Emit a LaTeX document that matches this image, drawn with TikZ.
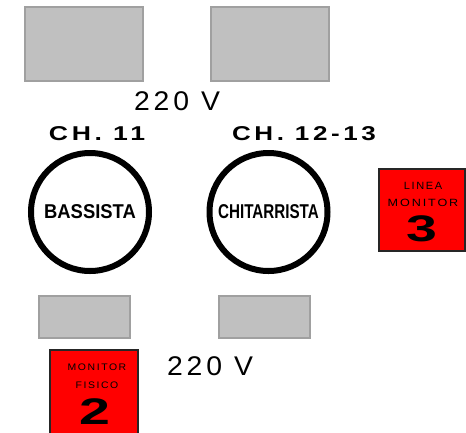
\documentclass[tikz,border=0pt]{standalone}
\usepackage{fontspec}
\usepackage{graphicx}
\setmainfont{Liberation Sans}
\newfontfamily\spacedfont[LetterSpace=14]{Liberation Sans}
\newfontfamily\tinyspaced[LetterSpace=15]{Liberation Sans}
\newcommand{\widen}[2]{\scalebox{#1}[1]{#2}}
\definecolor{platefill}{HTML}{C0C0C0}
\definecolor{plateedge}{HTML}{A0A0A0}
\definecolor{monred}{HTML}{FF0000}

\begin{document}
\begin{tikzpicture}[x=1pt,y=-1pt,
  plate/.style={draw=plateedge,fill=platefill,line width=2pt,inner sep=0pt},
  stand/.style={circle,draw=black,line width=6pt,inner sep=0pt,minimum size=118pt},
  monitor/.style={draw=black!85,fill=monred,line width=2pt,inner sep=0pt},
  volt/.style={inner sep=0pt,font=\spacedfont\fontsize{27}{29}\selectfont},
  chan/.style={inner sep=0pt,font=\spacedfont\bfseries\fontsize{20}{22}\selectfont},
  player/.style={inner sep=0pt,font=\bfseries\fontsize{20}{22}\selectfont},
  montext/.style={inner sep=0pt,font=\tinyspaced\fontsize{#1}{#1}\selectfont},
  monnum/.style={inner sep=0pt,font=\bfseries\fontsize{37}{39}\selectfont}]
\clip (0,0) rectangle (466,432);
% top plates
\node[plate,minimum width=118pt,minimum height=74pt] (plateA) at (84,44) {};
\node[plate,minimum width=118pt,minimum height=74pt] (plateB) at (270,44) {};
\node[volt] (voltTop) at (177,101) {\widen{1.05}{220 V}};
% channels
\node[chan] (chA) at (97,134) {\widen{1.33}{CH. 11}};
\node[chan] (chB) at (304,134) {\widen{1.3}{CH. 12-13}};
% players
\node[stand] (bass) at (90,212) {};
\node[stand] (guitar) at (268.5,212) {};
\node[player] at (bass) {\widen{0.92}{BASSISTA}};
\node[player] at (guitar) {\widen{0.76}{CHITARRISTA}};
% monitor 3
\node[monitor,minimum width=86pt,minimum height=82pt] (mon3) at (422,210) {};
\node[montext=10.5] (mon3a) at (423,186) {\widen{1.05}{LINEA}};
\node[montext=10.5] (mon3b) at (423,203) {\widen{1.2}{MONITOR}};
\node[monnum] (mon3c) at (422,229) {\widen{1.5}{3}};
% bottom plates
\node[plate,minimum width=91pt,minimum height=42pt] (plateC) at (84.5,317) {};
\node[plate,minimum width=91pt,minimum height=42pt] (plateD) at (264.5,317) {};
\node[volt] (voltBot) at (210,366) {\widen{1.05}{220 V}};
% monitor 2
\node[monitor,minimum width=88pt,minimum height=86pt] (mon2) at (94,393) {};
\node[montext=9.5] (mon2a) at (97,367) {\widen{1.1}{MONITOR}};
\node[montext=9.5] (mon2b) at (97,385) {\widen{1.1}{FISICO}};
\node[monnum] (mon2c) at (95,412) {\widen{1.5}{2}};
\end{tikzpicture}
\end{document}
